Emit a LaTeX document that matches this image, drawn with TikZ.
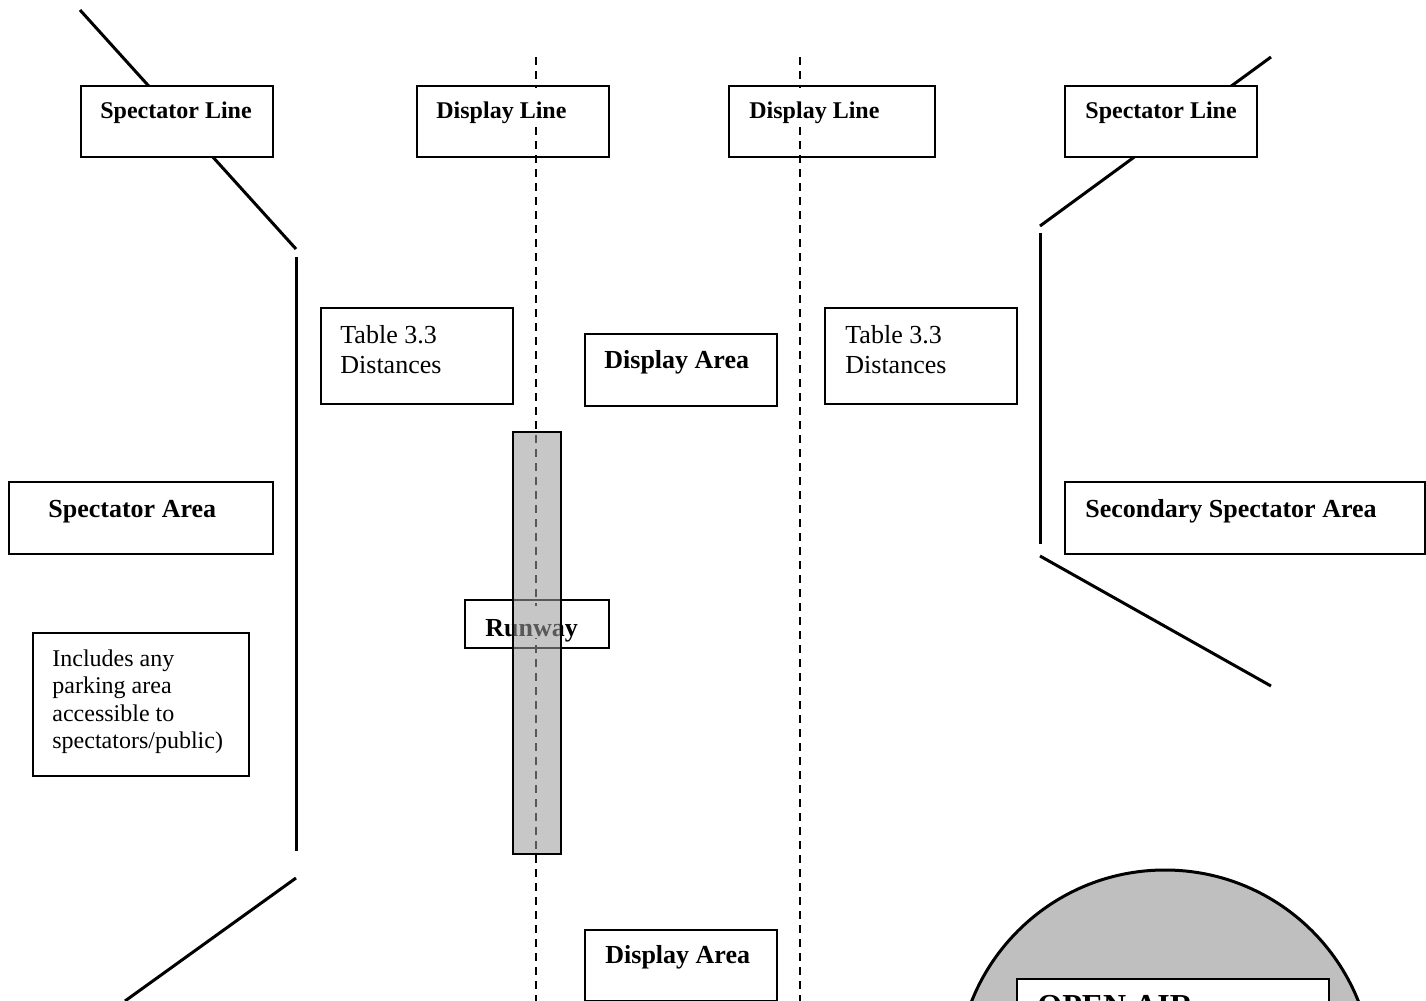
\documentclass[tikz,border=0pt]{standalone}
\usepackage{fontspec}
\setmainfont{Liberation Serif}
\usetikzlibrary{backgrounds}

\begin{document}
\begin{tikzpicture}[x=0.5pt, y=-0.5pt,
   specline/.style={line width=1.5pt},
   displine/.style={line width=0.75pt, dash pattern=on 4pt off 3pt},
   box/.style={draw, fill=white, line width=0.8pt, anchor=north west, inner sep=0pt},
   tag/.style={anchor=base west, fill=white, inner sep=0pt, text height=15pt, text depth=3pt},
   linetag/.style={tag, font=\fontsize{12}{13.8}\selectfont\bfseries},
   areatag/.style={tag, font=\fontsize{13}{15.5}\selectfont\bfseries},
   note/.style={anchor=base west, inner sep=0pt}]
  \path[use as bounding box, clip] (0,0) rectangle (1426,1001);

  % spectator line, left side
  \coordinate (lA) at (80,10);   \coordinate (lB) at (296,249);
  \coordinate (lC) at (296,257); \coordinate (lD) at (296,851);
  \coordinate (lE) at (296,878); \coordinate (lF) at (125,1001);
  \draw[specline] (lA) -- (lB);
  \draw[specline] (lC) -- (lD);
  \draw[specline] (lE) -- (lF);
  % spectator line, right side
  \coordinate (rA) at (1271,57);  \coordinate (rB) at (1040,226);
  \coordinate (rC) at (1040,233); \coordinate (rD) at (1040,544);
  \coordinate (rE) at (1040,556); \coordinate (rF) at (1271,686);
  \draw[specline] (rA) -- (rB);
  \draw[specline] (rC) -- (rD);
  \draw[specline] (rE) -- (rF);

  % open air area
  \coordinate (oc) at (1165,1078);
  \draw[specline, fill=black!25] (oc) circle [radius=208];

  \node[box, minimum width=96pt, minimum height=35.5pt] (slL) at (80,85) {};
  \node[box, minimum width=96pt, minimum height=35.5pt] (dl1) at (416,85) {};
  \node[box, minimum width=103pt, minimum height=35.5pt] (dl2) at (728,85) {};
  \node[box, minimum width=96pt, minimum height=35.5pt] (slR) at (1064,85) {};
  \node[box, minimum width=96pt, minimum height=48pt] (tab1) at (320,307) {};
  \node[box, minimum width=96pt, minimum height=36pt] (da1) at (584,333) {};
  \node[box, minimum width=96pt, minimum height=48pt] (tab2) at (824,307) {};
  \node[box, minimum width=132pt, minimum height=36pt] (sa) at (8,481) {};
  \node[box, minimum width=180pt, minimum height=36pt] (ssa) at (1064,481) {};
  \node[box, minimum width=72pt, minimum height=24pt] (rwb) at (464,599) {};
  \node[box, minimum width=108pt, minimum height=71.5pt] (inc) at (32,632) {};
  \node[box, minimum width=96pt, minimum height=35.5pt] (da2) at (584,929) {};
  \node[box, minimum width=156pt, minimum height=50pt] (oa) at (1016,978) {};

  % display lines
  \coordinate (d1t) at (536,57); \coordinate (d1b) at (536,1001);
  \coordinate (d2t) at (800,57); \coordinate (d2b) at (800,1001);
  \draw[displine] (d1t) -- (d1b);
  \draw[displine] (d2t) -- (d2b);

  \node[linetag] (slLt) at ([shift={(20,33)}]slL.north west) {Spectator Line};
  \node[linetag] (dl1t) at ([shift={(20,33)}]dl1.north west) {Display Line};
  \node[linetag] (dl2t) at ([shift={(21,33)}]dl2.north west) {Display Line};
  \node[linetag] (slRt) at ([shift={(21,33)}]slR.north west) {Spectator Line};
  \node[note, font=\fontsize{13}{15}\selectfont] (tab1t) at ([shift={(20,36)}]tab1.north west)
     {\begin{tabular}[t]{@{}l@{}} Table 3.3 \\ Distances \end{tabular}};
  \node[note, font=\fontsize{13}{15}\selectfont] (tab2t) at ([shift={(21,36)}]tab2.north west)
     {\begin{tabular}[t]{@{}l@{}} Table 3.3 \\ Distances \end{tabular}};
  \node[areatag] (da1t) at ([shift={(20,35)}]da1.north west) {Display Area};
  \node[areatag] (sat) at ([shift={(40,36)}]sa.north west) {Spectator Area};
  \node[areatag] (ssat) at ([shift={(21,36)}]ssa.north west) {Secondary Spectator Area};
  \node[areatag, text depth=1pt] (rwbt) at ([shift={(21,37)}]rwb.north west) {Runway};
  \node[note, font=\fontsize{12}{13.75}\selectfont] (inct) at ([shift={(20,34)}]inc.north west)
     {\begin{tabular}[t]{@{}l@{}} Includes any \\ parking area \\ accessible to \\ spectators/public) \end{tabular}};
  \node[areatag] (da2t) at ([shift={(21,34)}]da2.north west) {Display Area};
  \node[tag, font=\fontsize{16}{18}\selectfont\bfseries] (oat) at ([shift={(21,38)}]oa.north west) {OPEN AIR};

  % runway strip
  \node[draw, line width=0.8pt, fill=black!39, fill opacity=0.57, anchor=north west,
     inner sep=0pt, minimum width=24pt, minimum height=211pt] (rwy) at (512,431) {};
\end{tikzpicture}
\end{document}
